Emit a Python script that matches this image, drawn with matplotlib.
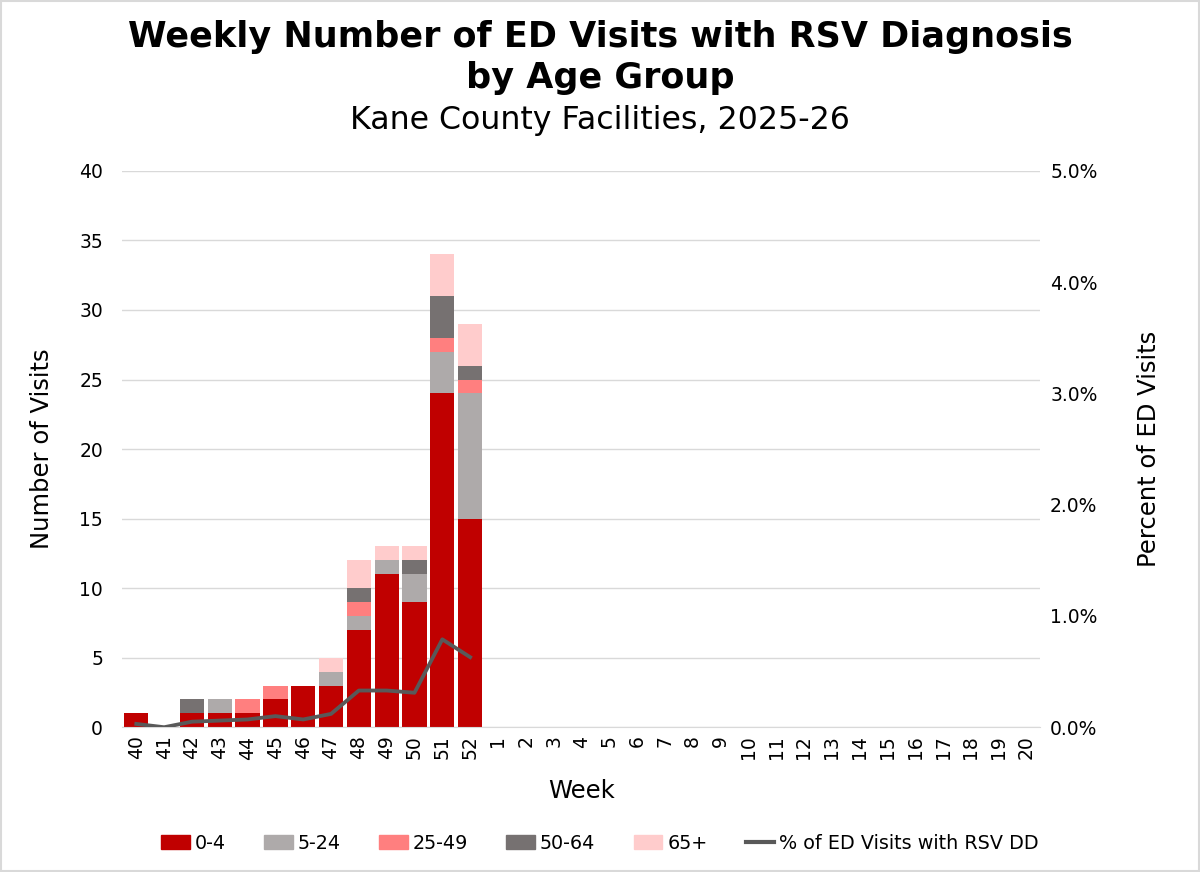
import numpy as np
import matplotlib.pyplot as plt
from matplotlib.lines import Line2D
from matplotlib.patches import Patch

weeks = [str(w) for w in range(40, 53)] + [str(w) for w in range(1, 21)]

# visits by age group (weeks 40-52, later weeks empty)
age_0_4 = [1, 0, 1, 1, 1, 2, 3, 3, 7, 11, 9, 24, 15]
age_5_24 = [0, 0, 0, 1, 0, 0, 0, 1, 1, 1, 2, 3, 9]
age_25_49 = [0, 0, 0, 0, 1, 1, 0, 0, 1, 0, 0, 1, 1]
age_50_64 = [0, 0, 1, 0, 0, 0, 0, 0, 1, 0, 1, 3, 1]
age_65 = [0, 0, 0, 0, 0, 0, 0, 1, 2, 1, 1, 3, 3]
pct_rsv = [0.03, 0.00, 0.05, 0.06, 0.07, 0.10, 0.07, 0.12, 0.33, 0.33, 0.31, 0.79, 0.63]

groups = [
    ('0-4', age_0_4, '#C00000'),
    ('5-24', age_5_24, '#AEAAAA'),
    ('25-49', age_25_49, '#FF7F7F'),
    ('50-64', age_50_64, '#767171'),
    ('65+', age_65, '#FFCCCC'),
]

plt.rcParams['font.family'] = ['DejaVu Sans']

fig = plt.figure(figsize=(12, 8.72), dpi=100)
fig.patches.append(plt.Rectangle((0.001, 0.001), 0.998, 0.998, transform=fig.transFigure,
                                 fill=False, edgecolor='#D9D9D9', linewidth=1.5))
ax = fig.add_axes([0.102, 0.166, 0.765, 0.638])
ax2 = ax.twinx()

n_weeks = len(weeks)
x = np.arange(n_weeks)
bottom = np.zeros(n_weeks)
for name, vals, color in groups:
    v = np.zeros(n_weeks)
    v[:len(vals)] = vals
    ax.bar(x, v, bottom=bottom, width=0.87, color=color, zorder=2)
    bottom += v

ax2.plot(x[:len(pct_rsv)], pct_rsv, color='#595959', linewidth=2.75, zorder=3)

ax.set_xlim(-0.5, n_weeks - 0.5)
ax.set_ylim(0, 40)
ax.set_yticks(range(0, 41, 5))
ax2.set_ylim(0, 5)
ax2.set_yticks(np.arange(0, 5.01, 1))
ax2.set_yticklabels([f'{t:.1f}%' for t in np.arange(0, 5.01, 1)])

ax.set_xticks(x)
ax.set_xticklabels(weeks, rotation=90)
ax.yaxis.grid(True, color='#D9D9D9', linewidth=1)
ax.set_axisbelow(True)
for a in (ax, ax2):
    for s in a.spines.values():
        s.set_visible(False)
    a.tick_params(length=0, labelsize=13.5)
ax.spines['bottom'].set_visible(True)
ax.spines['bottom'].set_color('#D9D9D9')
ax.tick_params(axis='y', pad=14)
ax.tick_params(axis='x', pad=6)
ax2.tick_params(axis='y', pad=7)

ax.set_xlabel('Week', fontsize=17.5, labelpad=14)
ax.set_ylabel('Number of Visits', fontsize=17.5, labelpad=18)
ax2.set_ylabel('Percent of ED Visits', fontsize=17.5, labelpad=28)

fig.text(0.5, 0.957, 'Weekly Number of ED Visits with RSV Diagnosis', ha='center', va='center',
         fontsize=25.2, fontweight='bold')
fig.text(0.5, 0.911, 'by Age Group', ha='center', va='center', fontsize=25.2, fontweight='bold')
fig.text(0.5, 0.862, 'Kane County Facilities, 2025-26', ha='center', va='center', fontsize=22.8)

handles = [Patch(color=c, label=n) for n, _, c in groups]
handles.append(Line2D([0], [0], color='#595959', linewidth=3, label='% of ED Visits with RSV DD'))
fig.legend(handles=handles, loc='center', bbox_to_anchor=(0.5, 0.033), ncol=6, frameon=False,
           fontsize=13.8, handlelength=1.5, handletextpad=0.25, columnspacing=2.0)

fig.savefig('out.png', dpi=100)
